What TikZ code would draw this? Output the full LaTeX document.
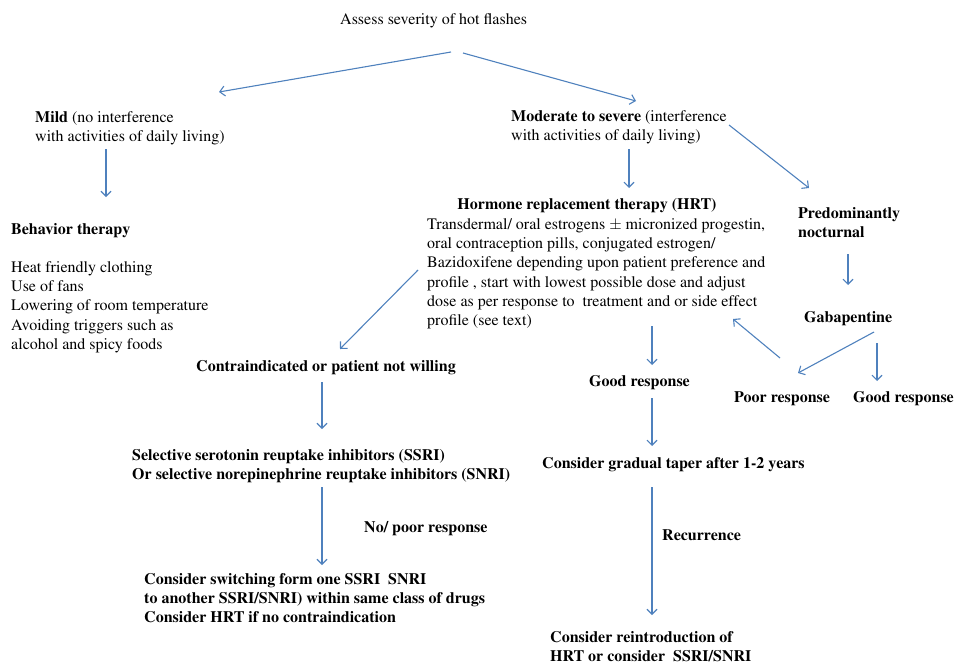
\documentclass[tikz,border=0pt]{standalone}
\usepackage[T1]{fontenc}
\usepackage{mathptmx}
\usetikzlibrary{arrows.meta}
\definecolor{arrowblue}{RGB}{79,129,189}
\tikzset{
  txt/.style={anchor=north west, inner sep=0pt, align=left, font=\fontsize{16}{19.3}\selectfont},
  txtc/.style={anchor=north, inner sep=0pt, align=center, font=\fontsize{16}{19.3}\selectfont},
  flow/.style={draw=arrowblue, line width=1.1pt, -{Straight Barb[length=5pt,width=10pt]}}
}
\begin{document}
\begin{tikzpicture}[x=1pt,y=-1pt]
\useasboundingbox (0,0) rectangle (956,664);
% text nodes (y = first baseline - 13.5)
\node[txt] (title) at (340,10.5) {\strut Assess severity of hot flashes};
\node[txt] (mild) at (35,108.5) {\strut\textbf{Mild} (no interference\\\strut with activities of daily living)};
\node[txt] (beh) at (11,220.5) {\strut\textbf{Behavior therapy}};
\node[txt] (behlist) at (11,258.5) {\strut Heat friendly clothing\\\strut Use of fans\\\strut Lowering of room temperature\\\strut Avoiding triggers\ such as\\\strut alcohol and spicy foods};
\node[txt] (mod) at (511,107.5) {\strut\textbf{Moderate to severe} (interference\\\strut with activities of daily living)};
\node[txtc] (hrt) at (587,195.5) {\strut\textbf{Hormone replacement therapy (HRT)}};
\node[txt] (hrtbody) at (427,215.5) {\strut Transdermal/ oral estrogens $\pm$ micronized progestin,\\\strut oral contraception pills, conjugated estrogen/\\\strut Bazidoxifene depending upon patient preference and\\\strut profile , start with lowest possible dose and adjust\\\strut dose as per response to\ \ treatment and or side effect\\\strut profile (see text)};
\node[txt] (noct) at (798,204.5) {\strut\textbf{Predominantly}\\\strut\textbf{nocturnal}};
\node[txt] (gaba) at (804,308.5) {\strut\textbf{Gabapentine}};
\node[txt] (poor) at (734,388.5) {\strut\textbf{Poor response}};
\node[txt] (goodr) at (853,388.5) {\strut\textbf{Good response}};
\node[txt] (goodm) at (589,372.5) {\strut\textbf{Good response}};
\node[txt] (taper) at (542,454.5) {\strut\textbf{Consider gradual taper after 1-2 years}};
\node[txt] (recur) at (662,526.5) {\strut\textbf{Recurrence}};
\node[txt] (reint) at (550,628.5) {\strut\textbf{Consider reintroduction of}\\\strut\textbf{HRT or consider\ \ SSRI/SNRI}};
\node[txt] (contra) at (196,357.5) {\strut\textbf{Contraindicated or patient not willing}};
\node[txt] (ssri) at (132,446.5) {\strut\textbf{Selective serotonin reuptake inhibitors (SSRI)}\\\strut\textbf{Or selective norepinephrine reuptake inhibitors (SNRI)}};
\node[txt] (nopoor) at (364,518.5) {\strut\textbf{No/ poor response}};
\node[txt] (switch) at (144,570.5) {\strut\textbf{Consider switching form one SSRI\ \ SNRI}\\\strut\textbf{to another SSRI/SNRI) within same class of drugs}\\\strut\textbf{Consider HRT if no contraindication}};
% arrow end points
\coordinate (a1s) at (451,52);  \coordinate (a1e) at (219,92);
\coordinate (a2s) at (463,53);  \coordinate (a2e) at (636,101);
\coordinate (a3s) at (106,149); \coordinate (a3e) at (106,197);
\coordinate (a4s) at (629,149); \coordinate (a4e) at (629,188);
\coordinate (a5s) at (729,125); \coordinate (a5e) at (809,188);
\coordinate (a6s) at (848,254); \coordinate (a6e) at (848,285);
\coordinate (a7s) at (874,332); \coordinate (a7e) at (798,373);
\coordinate (a8s) at (877,343); \coordinate (a8e) at (877,381);
\coordinate (a9s) at (780,358); \coordinate (a9e) at (733,319);
\coordinate (a10s) at (652,326); \coordinate (a10e) at (652,365);
\coordinate (a11s) at (652,398); \coordinate (a11e) at (652,446);
\coordinate (a12s) at (652,487); \coordinate (a12e) at (652,615);
\coordinate (a13s) at (418,270); \coordinate (a13e) at (340,349);
\coordinate (a14s) at (322,382); \coordinate (a14e) at (322,429);
\coordinate (a15s) at (322,487); \coordinate (a15e) at (322,565);
\foreach \i in {1,...,15} {\draw[flow] (a\i s) -- (a\i e);}
\end{tikzpicture}
\end{document}
